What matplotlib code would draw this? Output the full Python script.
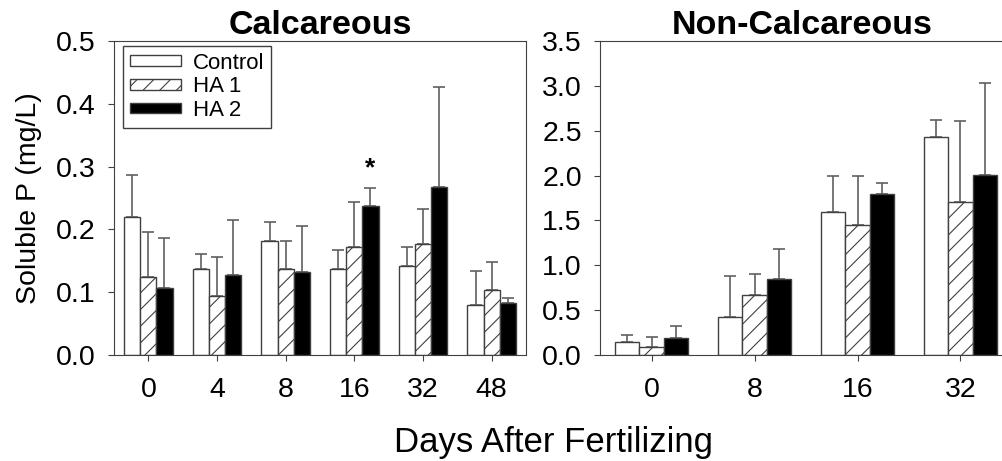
import numpy as np
import matplotlib.pyplot as plt

plt.rcParams['font.family'] = ['Liberation Sans', 'DejaVu Sans']
plt.rcParams['hatch.color'] = '#404040'
plt.rcParams['hatch.linewidth'] = 0.8

# Calcareous soil
calc_days = ['0', '4', '8', '16', '32', '48']
calc_control = [0.220, 0.137, 0.182, 0.137, 0.141, 0.080]
calc_control_top = [0.287, 0.161, 0.211, 0.167, 0.172, 0.134]
calc_ha1 = [0.125, 0.094, 0.137, 0.172, 0.176, 0.104]
calc_ha1_top = [0.196, 0.156, 0.181, 0.243, 0.233, 0.148]
calc_ha2 = [0.106, 0.128, 0.132, 0.238, 0.267, 0.083]
calc_ha2_top = [0.186, 0.215, 0.206, 0.266, 0.426, 0.091]

# Non-calcareous soil
non_days = ['0', '8', '16', '32']
non_control = [0.141, 0.427, 1.594, 2.430]
non_control_top = [0.226, 0.877, 1.995, 2.620]
non_ha1 = [0.093, 0.672, 1.453, 1.709]
non_ha1_top = [0.197, 0.899, 1.992, 2.605]
non_ha2 = [0.186, 0.843, 1.800, 2.010]
non_ha2_top = [0.323, 1.180, 1.920, 3.030]

W, H = 1003, 461
fig = plt.figure(figsize=(W / 100, H / 100), dpi=100)
ax1 = fig.add_axes([114 / W, 1 - 355 / H, (526 - 114) / W, (355 - 41) / H])
ax2 = fig.add_axes([600 / W, 1 - 355 / H, (1012 - 600) / W, (355 - 41) / H])

bw = 0.235
styles = [dict(color='white', hatch=None, label='Control'),
          dict(color='white', hatch='//', label='HA 1'),
          dict(color='black', hatch=None, label='HA 2')]


def draw(ax, days, vals, tops):
    x = np.arange(len(days))
    for i, (v, t, st) in enumerate(zip(vals, tops, styles)):
        v = np.array(v)
        t = np.array(t)
        xs = x + (i - 1) * bw
        ax.bar(xs, v, bw, color=st['color'], edgecolor='#404040', linewidth=1,
               hatch=st['hatch'], label=st['label'], zorder=2)
        ax.errorbar(xs, v, yerr=[np.zeros_like(v), t - v], fmt='none',
                    ecolor='#606060', elinewidth=1.2, capsize=4, capthick=1.2,
                    zorder=1)
    ax.set_xticks(x)
    ax.set_xticklabels(days)
    ax.set_xlim(-0.5, len(days) - 0.5)
    ax.tick_params(direction='out', labelsize=20.5, length=4, color='#404040')
    ax.tick_params(axis='y', pad=9)
    ax.tick_params(axis='x', pad=12)
    for s in ax.spines.values():
        s.set_color('#404040')


draw(ax1, calc_days, [calc_control, calc_ha1, calc_ha2],
     [calc_control_top, calc_ha1_top, calc_ha2_top])
draw(ax2, non_days, [non_control, non_ha1, non_ha2],
     [non_control_top, non_ha1_top, non_ha2_top])

ax1.set_ylim(0, 0.5)
ax1.set_yticks(np.arange(0, 0.51, 0.1))
ax1.set_yticklabels(['%.1f' % v for v in np.arange(0, 0.51, 0.1)])
ax2.set_ylim(0, 3.5)
ax2.set_yticks(np.arange(0, 3.51, 0.5))
ax2.set_yticklabels(['%.1f' % v for v in np.arange(0, 3.51, 0.5)])

ax1.text(3 + bw, 0.297, '*', ha='center', va='center', fontsize=19, fontweight='bold')

ax1.set_title('Calcareous', fontsize=24.5, fontweight='bold', pad=5)
ax2.set_title('Non-Calcareous', fontsize=24.5, fontweight='bold', pad=5,
              x=(802 - 600) / (1012 - 600))
ax1.set_ylabel('Soluble P (mg/L)', fontsize=20.5, labelpad=10)
fig.text(554 / W, 1 - 442 / H, 'Days After Fertilizing', ha='center', va='center', fontsize=25)

leg = ax1.legend(loc='upper left', bbox_to_anchor=(0.022, 0.984), fontsize=16,
                 handlelength=2.3, handleheight=0.35, labelspacing=0.12,
                 borderpad=0.3, handletextpad=0.55, borderaxespad=0,
                 fancybox=False, edgecolor='#404040', framealpha=1)
leg.get_frame().set_linewidth(1)

fig.savefig('out.png', dpi=100)
